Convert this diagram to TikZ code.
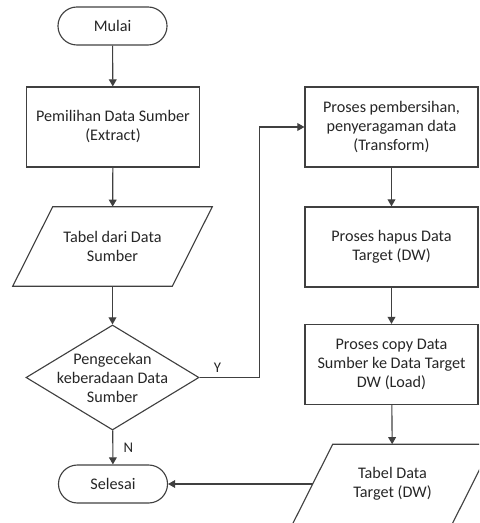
\documentclass[tikz,border=0pt]{standalone}
\usepackage{fontspec}
\setmainfont{Carlito}
\usetikzlibrary{shapes.geometric, shapes.misc, arrows.meta}

% slanted frame round a data node (slant 40px = 1cm)
\newcommand{\dataframe}[1]{%
    \draw[line] ([xshift=0.5cm]#1.north west) -- ([xshift=0.5cm]#1.north east)
        -- ([xshift=-0.5cm]#1.south east) -- ([xshift=-0.5cm]#1.south west) -- cycle;}

\begin{document}
\begin{tikzpicture}[x=0.025cm, y=-0.025cm,
    every node/.style={font=\fontsize{11.5}{13.5}\selectfont, text=black!85},
    line/.style={draw=black!75, line width=0.8pt},
    arr/.style={line, -{Triangle[length=5pt, width=5.5pt]}},
    terminal/.style={rounded rectangle, line, minimum width=2.725cm, minimum height=0.95cm, inner sep=0pt},
    process/.style={rectangle, line, minimum width=4.325cm, minimum height=2cm, align=center, inner sep=0pt},
    data/.style={rectangle, minimum width=3.975cm, minimum height=1.975cm, align=center, inner sep=0pt},
    decision/.style={diamond, line, minimum width=4.325cm, minimum height=2.625cm, inner sep=0pt}]
    \useasboundingbox (0,0) rectangle (479,523);
    \clip (0,0) rectangle (479,523);

    % left column
    \node[terminal] (mulai) at (112.5,26) {Mulai};
    \node[process] (pilih) at (113,127) {Pemilihan Data Sumber\\(Extract)};
    \node[data] (tabel) at (112.5,246.5) {Tabel dari Data\\Sumber};
    \dataframe{tabel}
    \node[decision] (cek) at (112.5,377.5) {};
    \node[align=center] (cektxt) at (cek) {Pengecekan\\keberadaan Data\\Sumber};
    \node[terminal] (selesai) at (113,484) {Selesai};

    % right column
    \node[process] (trans) at (391.5,127) {Proses pembersihan,\\penyeragaman data\\(Transform)};
    \node[process] (hapus) at (391.5,247) {Proses hapus Data\\Target (DW)};
    \node[process] (copy) at (391.5,364.5) {Proses copy Data\\Sumber ke Data Target\\DW (Load)};
    \node[data] (target) at (392.5,484) {Tabel Data\\Target (DW)};
    \dataframe{target}

    \draw[arr] (mulai) -- (pilih);
    \draw[arr] (pilih) -- (tabel);
    \draw[arr] (tabel) -- (cek);
    \draw[arr] (cek) -- node[right, xshift=4pt, font=\fontsize{10.5}{12}\selectfont]{N} (selesai);
    \draw[arr] (cek.east) -- node[above, pos=0.3, font=\fontsize{10.5}{12}\selectfont]{Y} ++(60,0) |- (trans.west);
    \draw[arr] (trans) -- (hapus);
    \draw[arr] (hapus) -- (copy);
    \draw[arr] (copy) -- (target);
    \draw[arr] (target.west) -- (selesai.east);
\end{tikzpicture}
\end{document}
